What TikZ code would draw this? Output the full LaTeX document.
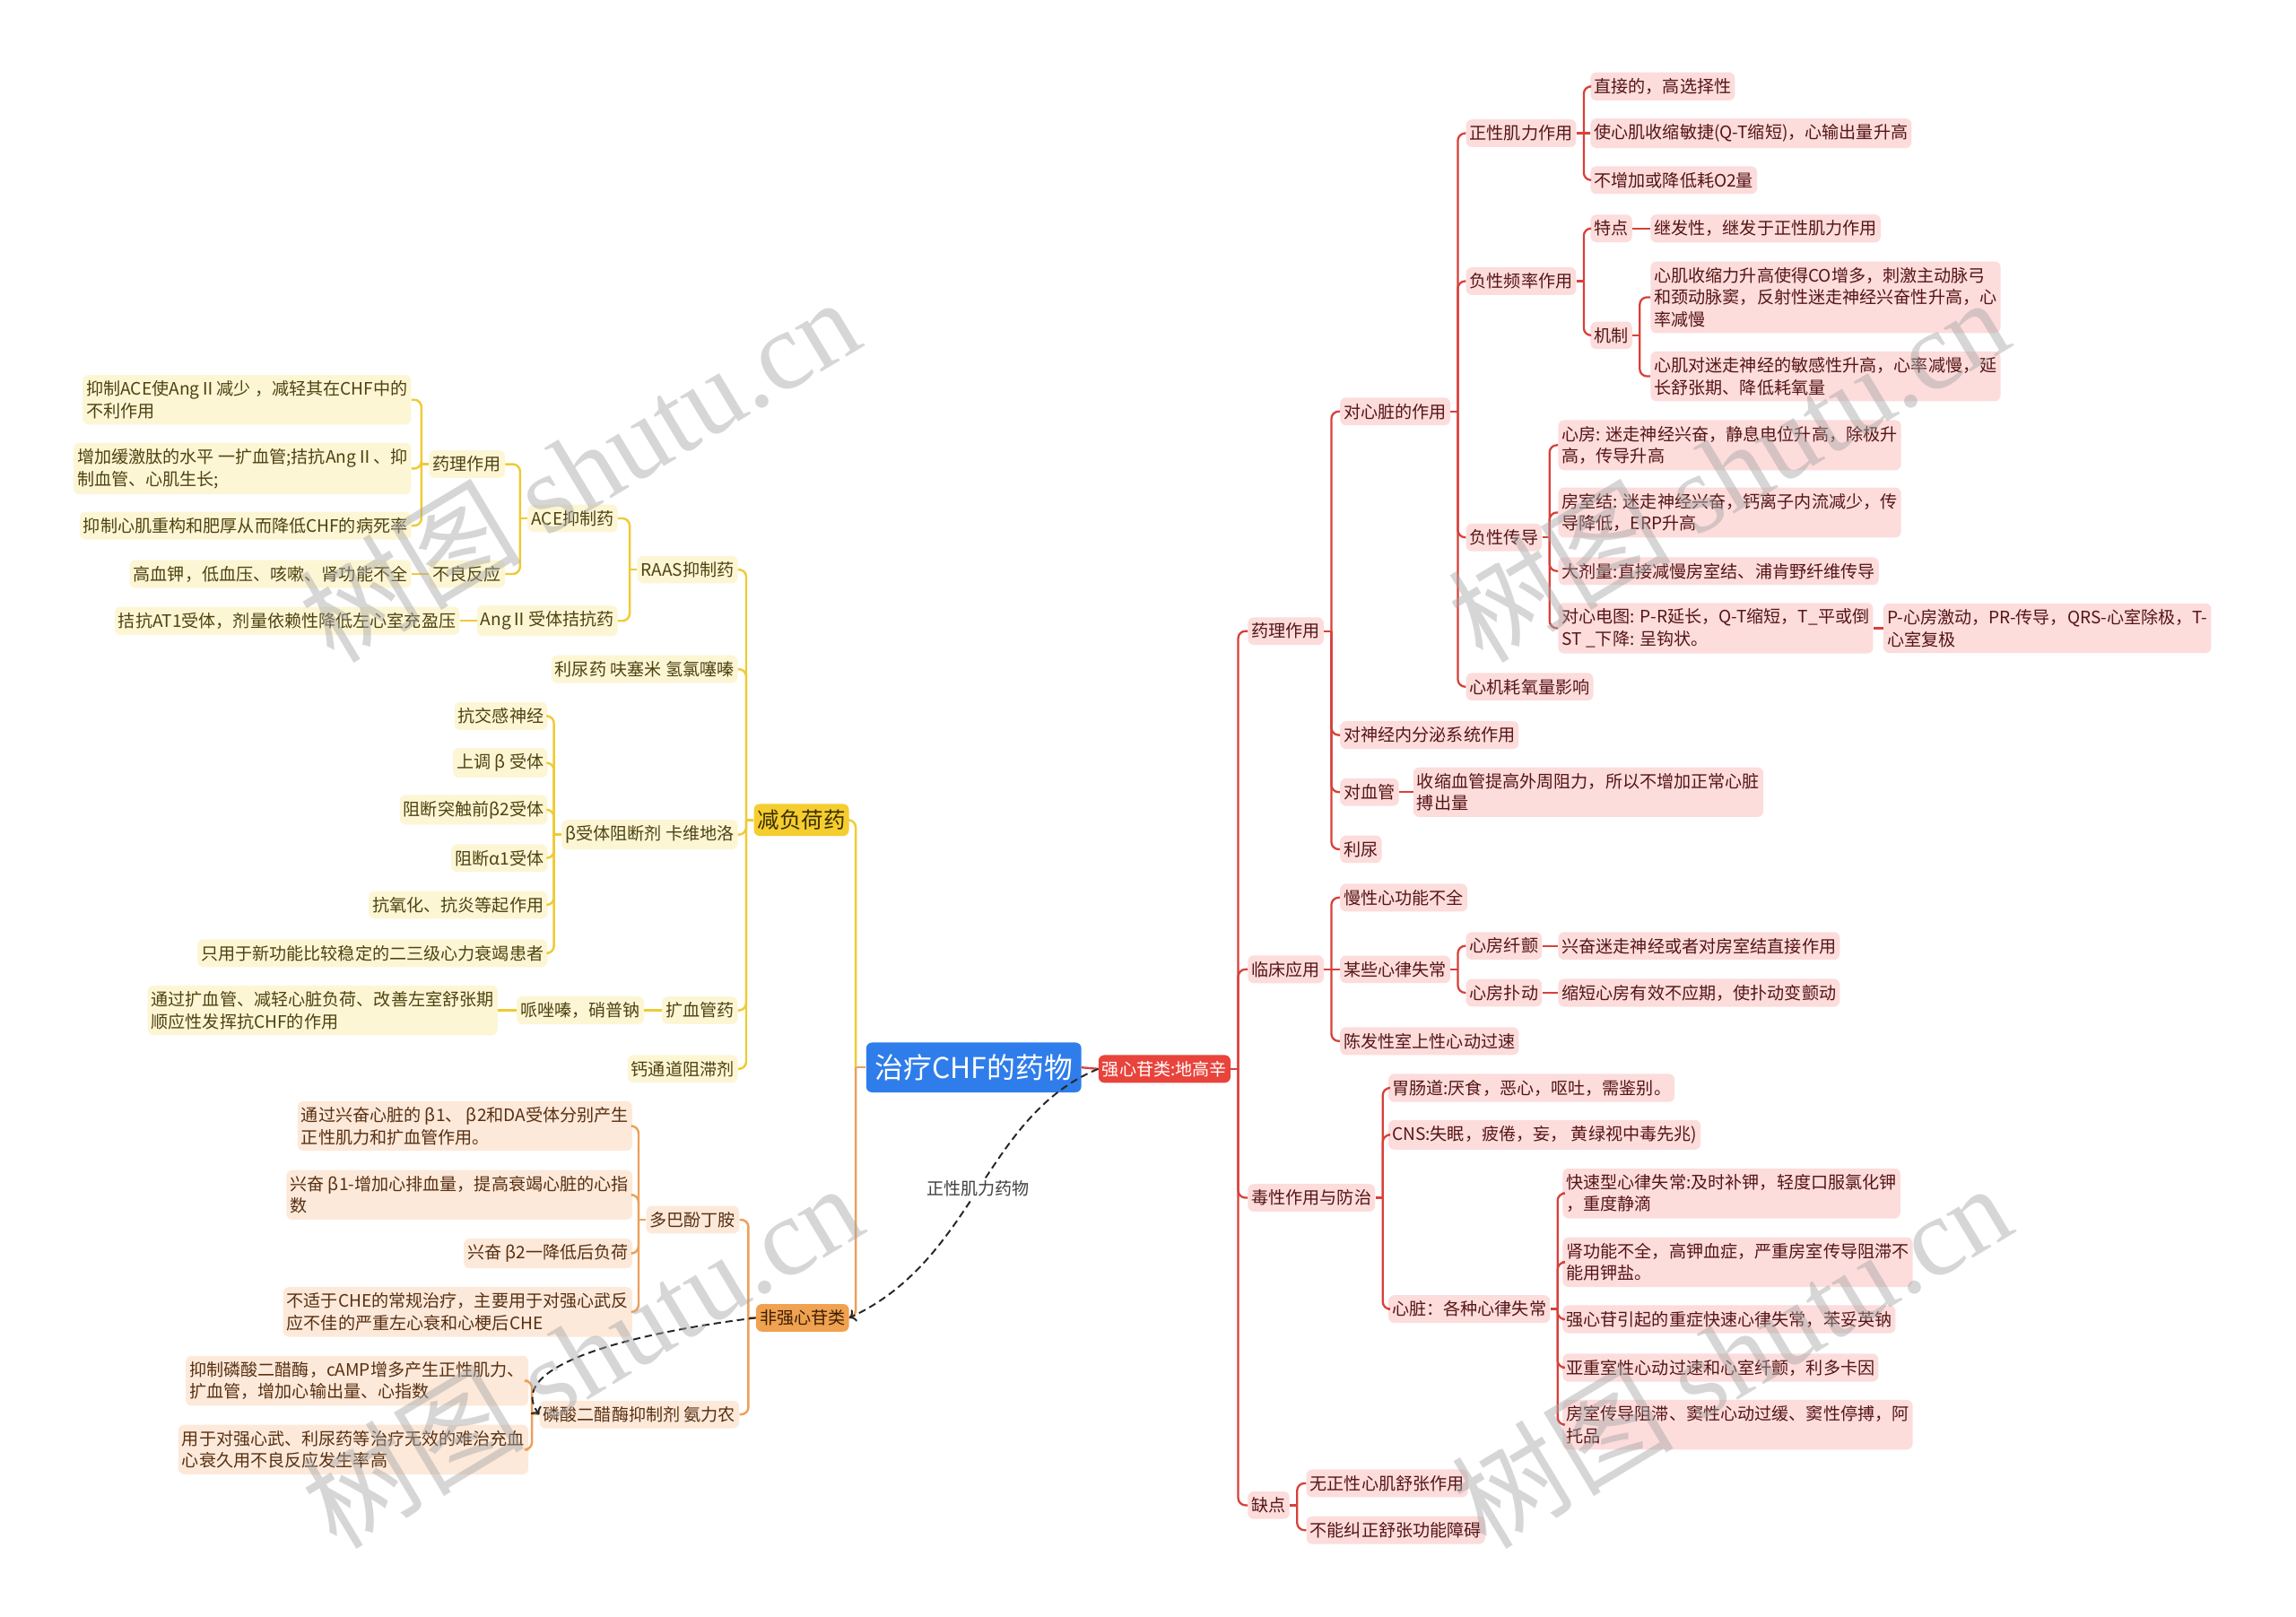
\documentclass[tikz,border=0pt]{standalone}
\usepackage{fontspec}
\setmainfont{Noto Sans CJK SC}
\newfontfamily\wmfont{Liberation Serif}
\usetikzlibrary{arrows.meta}

\definecolor{rootblue}{HTML}{2F7DEA}
\definecolor{mainred}{HTML}{E8443C}
\definecolor{redline}{HTML}{D8403A}
\definecolor{pinkfill}{HTML}{FDDCDC}
\definecolor{pinktext}{HTML}{551515}
\definecolor{mainyel}{HTML}{F5CD2E}
\definecolor{yelmaintext}{HTML}{3A2F05}
\definecolor{yelline}{HTML}{EFCB33}
\definecolor{yelfill}{HTML}{FDF6D5}
\definecolor{yeltext}{HTML}{4E4210}
\definecolor{mainorg}{HTML}{F0A250}
\definecolor{orgmaintext}{HTML}{3B1F06}
\definecolor{orgline}{HTML}{ECA05A}
\definecolor{orgfill}{HTML}{FDE9DA}
\definecolor{orgtext}{HTML}{573012}

\begin{document}
\begin{tikzpicture}[x=1pt,y=-1pt,
    every node/.style={font=\fontsize{11.7}{15}\selectfont, rounded corners=4pt, inner xsep=2.5pt, inner ysep=4pt, align=left},
    rootbox/.style={fill=rootblue, text=white, font=\fontsize{19.5}{22}\selectfont, inner xsep=6pt, inner ysep=8pt},
    qxgbox/.style={fill=mainred, text=white, anchor=west},
    pinkbox/.style={fill=pinkfill, text=pinktext, anchor=west},
    yelmain/.style={fill=mainyel, text=yelmaintext, font=\fontsize{15}{18}\selectfont, anchor=east},
    yelbox/.style={fill=yelfill, text=yeltext, anchor=east},
    orgmain/.style={fill=mainorg, text=orgmaintext, anchor=east},
    orgbox/.style={fill=orgfill, text=orgtext, anchor=east},
    rline/.style={draw=redline, line width=1.4pt, rounded corners=5pt},
    yline/.style={draw=yelline, line width=1.5pt, rounded corners=5pt},
    oline/.style={draw=orgline, line width=1.5pt, rounded corners=5pt},
    dashline/.style={draw=black!85, line width=1.2pt, dash pattern=on 5pt off 3pt, ->},
    lbl/.style={fill=white, text=black!75, inner sep=2pt},
    wmark/.style={rotate=31, text=black!35, text opacity=0.45, font=\fontsize{76}{76}\selectfont, inner sep=0pt}]
    \fill[white] (0,0) rectangle (1568,1104);
    \useasboundingbox (0,0) rectangle (1568,1104);

    \node[rootbox] (root) at (665,729) {治疗CHF的药物};
    \node[qxgbox] (qxg) at (750,730) {强心苷类:地高辛};

    \node[pinkbox] (ylzy) at (852,431) {药理作用};
    \node[pinkbox] (lcyy) at (852,662) {临床应用};
    \node[pinkbox] (dxzy) at (852,818) {毒性作用与防治};
    \node[pinkbox] (qd) at (852,1028) {缺点};

    \node[pinkbox] (dxz) at (915,281) {对心脏的作用};
    \node[pinkbox] (dsj) at (915,502) {对神经内分泌系统作用};
    \node[pinkbox] (dxg) at (915,541) {对血管};
    \node[pinkbox] (ln) at (915,580) {利尿};
    \node[pinkbox] (xgz) at (965,541) {收缩血管提高外周阻力，所以不增加正常心脏\\搏出量};

    \node[pinkbox] (zxjl) at (1001,91) {正性肌力作用};
    \node[pinkbox] (fxpl) at (1001,192) {负性频率作用};
    \node[pinkbox] (fxcd) at (1001,367) {负性传导};
    \node[pinkbox] (xjhy) at (1001,469) {心机耗氧量影响};

    \node[pinkbox] (zj) at (1086,59) {直接的，高选择性};
    \node[pinkbox] (smj) at (1086,91) {使心肌收缩敏捷(Q-T缩短)，心输出量升高};
    \node[pinkbox] (bzj) at (1086,123) {不增加或降低耗O2量};
    \node[pinkbox] (td) at (1086,156) {特点};
    \node[pinkbox] (jfx) at (1127,156) {继发性，继发于正性肌力作用};
    \node[pinkbox] (jz) at (1086,229) {机制};
    \node[pinkbox] (jza) at (1127,203) {心肌收缩力升高使得CO增多，刺激主动脉弓\\和颈动脉窦，反射性迷走神经兴奋性升高，心\\率减慢};
    \node[pinkbox] (jzb) at (1127,257) {心肌对迷走神经的敏感性升高，心率减慢，延\\长舒张期、降低耗氧量};

    \node[pinkbox] (xf) at (1064,304) {心房: 迷走神经兴奋，静息电位升高，除极升\\高，传导升高};
    \node[pinkbox] (fsj) at (1064,350) {房室结: 迷走神经兴奋，钙离子内流减少，传\\导降低，ERP升高};
    \node[pinkbox] (djl) at (1064,390) {大剂量:直接减慢房室结、浦肯野纤维传导};
    \node[pinkbox] (xdt) at (1064,429) {对心电图: P-R延长，Q-T缩短，T\_平或倒\\ST \_下降: 呈钩状。};
    \node[pinkbox] (pxf) at (1286,429) {P-心房激动，PR-传导，QRS-心室除极，T-\\心室复极};

    \node[pinkbox] (mxx) at (915,613) {慢性心功能不全};
    \node[pinkbox] (mxl) at (915,662) {某些心律失常};
    \node[pinkbox] (cfx) at (915,711) {陈发性室上性心动过速};
    \node[pinkbox] (xfcz) at (1001,646) {心房纤颤};
    \node[pinkbox] (xfpd) at (1001,678) {心房扑动};
    \node[pinkbox] (xfczb) at (1064,646) {兴奋迷走神经或者对房室结直接作用};
    \node[pinkbox] (xfpdb) at (1064,678) {缩短心房有效不应期，使扑动变颤动};

    \node[pinkbox] (wcd) at (948,743) {胃肠道:厌食，恶心，呕吐，需鉴别。};
    \node[pinkbox] (cns) at (948,775) {CNS:失眠，疲倦，妄， 黄绿视中毒先兆)};
    \node[pinkbox] (xzgz) at (948,894) {心脏：各种心律失常};
    \node[pinkbox] (ksx) at (1067,815) {快速型心律失常:及时补钾，轻度口服氯化钾\\，重度静滴};
    \node[pinkbox] (sgn) at (1067,862) {肾功能不全，高钾血症，严重房室传导阻滞不\\能用钾盐。};
    \node[pinkbox] (qxgy) at (1067,901) {强心苷引起的重症快速心律失常，苯妥英钠};
    \node[pinkbox] (yzs) at (1067,934) {亚重室性心动过速和心室纤颤，利多卡因};
    \node[pinkbox] (fscd) at (1067,973) {房室传导阻滞、窦性心动过缓、窦性停搏，阿\\托品};

    \node[pinkbox] (wzx) at (892,1013) {无正性心肌舒张作用};
    \node[pinkbox] (bnjz) at (892,1045) {不能纠正舒张功能障碍};

    \node[yelmain] (jfh) at (580,560) {减负荷药};
    \node[yelbox] (raas) at (504,389) {RAAS抑制药};
    \node[yelbox] (lnz) at (504,457) {利尿药 呋塞米 氢氯噻嗪};
    \node[yelbox] (bst) at (504,570) {β受体阻断剂 卡维地洛};
    \node[yelbox] (kxg) at (504,690) {扩血管药};
    \node[yelbox] (gtd) at (504,730) {钙通道阻滞剂};

    \node[yelbox] (ace) at (422,354) {ACE抑制药};
    \node[yelbox] (ang) at (422,424) {AngⅡ受体拮抗药};
    \node[yelbox] (atl) at (314,424) {拮抗AT1受体，剂量依赖性降低左心室充盈压};
    \node[yelbox] (ylzl) at (345,317) {药理作用};
    \node[yelbox] (blfy) at (345,392) {不良反应};
    \node[yelbox] (acea) at (281,273) {抑制ACE使AngⅡ减少 ，减轻其在CHF中的\\不利作用};
    \node[yelbox] (aceb) at (281,320) {增加缓激肽的水平 一扩血管;拮抗AngⅡ、抑\\制血管、心肌生长;};
    \node[yelbox] (acec) at (281,359) {抑制心肌重构和肥厚从而降低CHF的病死率};
    \node[yelbox] (gxj) at (281,392) {高血钾，低血压、咳嗽、肾功能不全};

    \node[yelbox] (bta) at (374,489) {抗交感神经};
    \node[yelbox] (btb) at (374,521) {上调 β 受体};
    \node[yelbox] (btc) at (374,553) {阻断突触前β2受体};
    \node[yelbox] (btd) at (374,586) {阻断α1受体};
    \node[yelbox] (bte) at (374,618) {抗氧化、抗炎等起作用};
    \node[yelbox] (btf) at (374,651) {只用于新功能比较稳定的二三级心力衰竭患者};

    \node[yelbox] (pzq) at (440,690) {哌唑嗪，硝普钠};
    \node[yelbox] (tgk) at (340,690) {通过扩血管、减轻心脏负荷、改善左室舒张期\\顺应性发挥抗CHF的作用};

    \node[orgmain] (fqx) at (580,900) {非强心苷类};
    \node[orgbox] (dbf) at (505,833) {多巴酚丁胺};
    \node[orgbox] (lsm) at (505,966) {磷酸二醋酶抑制剂 氨力农};
    \node[orgbox] (dbfa) at (432,769) {通过兴奋心脏的 β1、 β2和DA受体分别产生\\正性肌力和扩血管作用。};
    \node[orgbox] (dbfb) at (432,816) {兴奋 β1-增加心排血量，提高衰竭心脏的心指\\数};
    \node[orgbox] (dbfc) at (432,856) {兴奋 β2一降低后负荷};
    \node[orgbox] (dbfd) at (432,896) {不适于CHE的常规治疗，主要用于对强心武反\\应不佳的严重左心衰和心梗后CHE};
    \node[orgbox] (lsma) at (361,943) {抑制磷酸二醋酶，cAMP增多产生正性肌力、\\扩血管，增加心输出量、心指数};
    \node[orgbox] (lsmb) at (361,990) {用于对强心武、利尿药等治疗无效的难治充血\\心衰久用不良反应发生率高};

    \draw[rline] (root.east) -- (qxg.west);
    \draw[rline] (qxg.east) -- ++(5,0);
    \draw[rline] ([xshift=5pt]qxg.east) |- (ylzy.west);
    \draw[rline] ([xshift=5pt]qxg.east) |- (lcyy.west);
    \draw[rline] ([xshift=5pt]qxg.east) |- (dxzy.west);
    \draw[rline] ([xshift=5pt]qxg.east) |- (qd.west);

    \draw[rline] (ylzy.east) -- ++(5,0);
    \draw[rline] ([xshift=5pt]ylzy.east) |- (dxz.west);
    \draw[rline] ([xshift=5pt]ylzy.east) |- (dsj.west);
    \draw[rline] ([xshift=5pt]ylzy.east) |- (dxg.west);
    \draw[rline] ([xshift=5pt]ylzy.east) |- (ln.west);
    \draw[rline] (dxg.east) -- (xgz.west);

    \draw[rline] (dxz.east) -- ++(5,0);
    \draw[rline] ([xshift=5pt]dxz.east) |- (zxjl.west);
    \draw[rline] ([xshift=5pt]dxz.east) |- (fxpl.west);
    \draw[rline] ([xshift=5pt]dxz.east) |- (fxcd.west);
    \draw[rline] ([xshift=5pt]dxz.east) |- (xjhy.west);

    \draw[rline] (zxjl.east) -- (smj.west);
    \draw[rline] ([xshift=5pt]zxjl.east) |- (zj.west);
    \draw[rline] ([xshift=5pt]zxjl.east) |- (bzj.west);

    \draw[rline] (fxpl.east) -- ++(5,0);
    \draw[rline] ([xshift=5pt]fxpl.east) |- (td.west);
    \draw[rline] ([xshift=5pt]fxpl.east) |- (jz.west);
    \draw[rline] (td.east) -- (jfx.west);
    \draw[rline] (jz.east) -- ++(5,0);
    \draw[rline] ([xshift=5pt]jz.east) |- (jza.west);
    \draw[rline] ([xshift=5pt]jz.east) |- (jzb.west);

    \draw[rline] (fxcd.east) -- ++(5,0);
    \draw[rline] ([xshift=5pt]fxcd.east) |- (xf.west);
    \draw[rline] ([xshift=5pt]fxcd.east) |- (fsj.west);
    \draw[rline] ([xshift=5pt]fxcd.east) |- (djl.west);
    \draw[rline] ([xshift=5pt]fxcd.east) |- (xdt.west);
    \draw[rline] (xdt.east) -- (pxf.west);

    \draw[rline] (lcyy.east) -- (mxl.west);
    \draw[rline] ([xshift=5pt]lcyy.east) |- (mxx.west);
    \draw[rline] ([xshift=5pt]lcyy.east) |- (cfx.west);
    \draw[rline] (mxl.east) -- ++(5,0);
    \draw[rline] ([xshift=5pt]mxl.east) |- (xfcz.west);
    \draw[rline] ([xshift=5pt]mxl.east) |- (xfpd.west);
    \draw[rline] (xfcz.east) -- (xfczb.west);
    \draw[rline] (xfpd.east) -- (xfpdb.west);

    \draw[rline] (dxzy.east) -- ++(5,0);
    \draw[rline] ([xshift=5pt]dxzy.east) |- (wcd.west);
    \draw[rline] ([xshift=5pt]dxzy.east) |- (cns.west);
    \draw[rline] ([xshift=5pt]dxzy.east) |- (xzgz.west);
    \draw[rline] (xzgz.east) -- ++(5,0);
    \draw[rline] ([xshift=5pt]xzgz.east) |- (ksx.west);
    \draw[rline] ([xshift=5pt]xzgz.east) |- (sgn.west);
    \draw[rline] ([xshift=5pt]xzgz.east) |- (qxgy.west);
    \draw[rline] ([xshift=5pt]xzgz.east) |- (yzs.west);
    \draw[rline] ([xshift=5pt]xzgz.east) |- (fscd.west);

    \draw[rline] (qd.east) -- ++(5,0);
    \draw[rline] ([xshift=5pt]qd.east) |- (wzx.west);
    \draw[rline] ([xshift=5pt]qd.east) |- (bnjz.west);

    \draw[oline] (root.west) -- ++(-7,0);
    \draw[yline] ([xshift=-7pt]root.west) |- (jfh.east);
    \draw[oline] ([xshift=-7pt]root.west) |- (fqx.east);

    \draw[yline] (jfh.west) -- ++(-5,0);
    \draw[yline] ([xshift=-5pt]jfh.west) |- (raas.east);
    \draw[yline] ([xshift=-5pt]jfh.west) |- (lnz.east);
    \draw[yline] ([xshift=-5pt]jfh.west) |- (bst.east);
    \draw[yline] ([xshift=-5pt]jfh.west) |- (kxg.east);
    \draw[yline] ([xshift=-5pt]jfh.west) |- (gtd.east);

    \draw[yline] (raas.west) -- ++(-5,0);
    \draw[yline] ([xshift=-5pt]raas.west) |- (ace.east);
    \draw[yline] ([xshift=-5pt]raas.west) |- (ang.east);
    \draw[yline] (ang.west) -- (atl.east);
    \draw[yline] (ace.west) -- ++(-5,0);
    \draw[yline] ([xshift=-5pt]ace.west) |- (ylzl.east);
    \draw[yline] ([xshift=-5pt]ace.west) |- (blfy.east);
    \draw[yline] (blfy.west) -- (gxj.east);
    \draw[yline] (ylzl.west) -- ++(-5,0);
    \draw[yline] ([xshift=-5pt]ylzl.west) |- (acea.east);
    \draw[yline] ([xshift=-5pt]ylzl.west) |- (aceb.east);
    \draw[yline] ([xshift=-5pt]ylzl.west) |- (acec.east);

    \draw[yline] (bst.west) -- ++(-5,0);
    \draw[yline] ([xshift=-5pt]bst.west) |- (bta.east);
    \draw[yline] ([xshift=-5pt]bst.west) |- (btb.east);
    \draw[yline] ([xshift=-5pt]bst.west) |- (btc.east);
    \draw[yline] ([xshift=-5pt]bst.west) |- (btd.east);
    \draw[yline] ([xshift=-5pt]bst.west) |- (bte.east);
    \draw[yline] ([xshift=-5pt]bst.west) |- (btf.east);

    \draw[yline] (kxg.west) -- (pzq.east);
    \draw[yline] (pzq.west) -- (tgk.east);

    \draw[oline] (fqx.west) -- ++(-5,0);
    \draw[oline] ([xshift=-5pt]fqx.west) |- (dbf.east);
    \draw[oline] ([xshift=-5pt]fqx.west) |- (lsm.east);
    \draw[oline] (dbf.west) -- ++(-5,0);
    \draw[oline] ([xshift=-5pt]dbf.west) |- (dbfa.east);
    \draw[oline] ([xshift=-5pt]dbf.west) |- (dbfb.east);
    \draw[oline] ([xshift=-5pt]dbf.west) |- (dbfc.east);
    \draw[oline] ([xshift=-5pt]dbf.west) |- (dbfd.east);
    \draw[oline] (lsm.west) -- ++(-5,0);
    \draw[oline] ([xshift=-5pt]lsm.west) |- (lsma.east);
    \draw[oline] ([xshift=-5pt]lsm.west) |- (lsmb.east);

    \draw[dashline] (qxg.west) .. controls (672,762) and (666,860) .. (fqx.east) node[lbl, pos=0.5] (zxyw) {正性肌力药物};
    \draw[dashline] (fqx.west) .. controls (420,912) and (345,935) .. (lsm.west);

    \node[wmark] (wma) at (395,320) {树图 {\wmfont shutu.cn}};
    \node[wmark] (wmb) at (397,925) {树图 {\wmfont shutu.cn}};
    \node[wmark] (wmc) at (1180,320) {树图 {\wmfont shutu.cn}};
    \node[wmark] (wmd) at (1182,925) {树图 {\wmfont shutu.cn}};
\end{tikzpicture}
\end{document}
